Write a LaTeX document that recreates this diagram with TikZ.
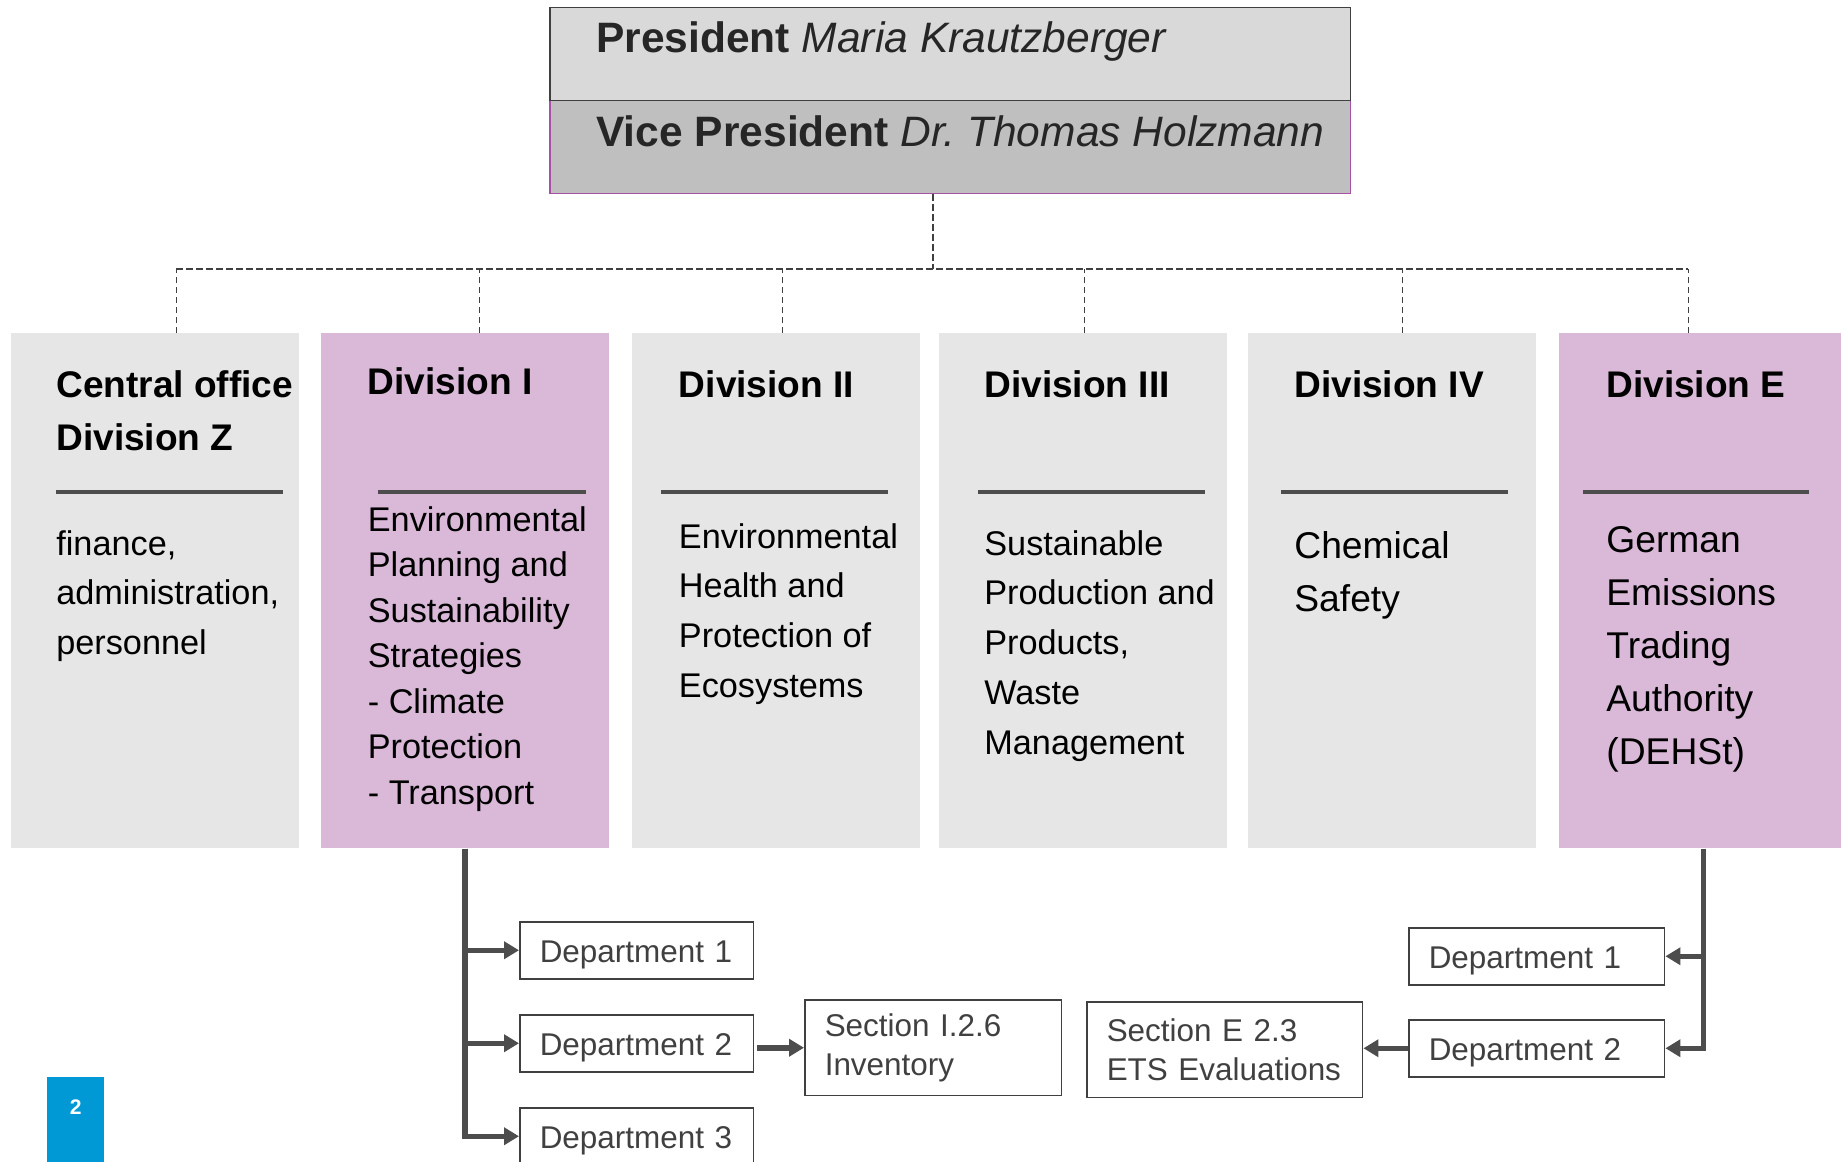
\documentclass[tikz,border=0pt]{standalone}
\usepackage{fontspec}
\setmainfont{Liberation Sans}
\usetikzlibrary{arrows.meta}

\definecolor{boxgray}{HTML}{E6E6E6}
\definecolor{boxpink}{HTML}{D9B9D7}
\definecolor{linegray}{HTML}{4D4D4D}
\definecolor{textgray}{HTML}{404040}
\definecolor{presgray}{HTML}{D9D9D9}
\definecolor{vpgray}{HTML}{BFBFBF}
\definecolor{vpline}{HTML}{A552A5}
\definecolor{presblack}{HTML}{262626}
\definecolor{pageblue}{HTML}{0099D5}

\newcommand{\fsz}[2]{\fontsize{#1}{#2}\selectfont}
\newcommand{\boxtext}[1]{\begin{tabular}[t]{@{}l@{}}#1\end{tabular}}

\tikzset{
  topbox/.style={anchor=north west, inner sep=0, minimum width=16.02cm, minimum height=1.86cm, line width=0.03cm},
  toptext/.style={anchor=base west, inner sep=0, text=presblack, font=\fsz{24.2}{29}},
  division/.style={anchor=north west, inner sep=0, minimum width=5.76cm, minimum height=10.3cm},
  head/.style={anchor=base west, inner sep=0, font=\bfseries\fsz{21.1}{30.7}},
  body/.style={anchor=base west, inner sep=0},
  divrule/.style={line width=0.08cm, draw=linegray},
  orgdash/.style={line width=0.026cm, draw=textgray, dash pattern=on 0.13cm off 0.07cm},
  dept/.style={draw=textgray, line width=0.03cm, text=textgray, anchor=north west, inner xsep=0.4cm, text width=#1, minimum height=1.14cm, text height=0.49cm, text depth=0cm, font=\fsz{17.9}{21.5}},
  secbox/.style={draw=textgray, line width=0.03cm, text=textgray, anchor=north west, inner xsep=0.4cm, text width=#1, minimum height=1.92cm, font=\fsz{17.9}{22}},
  orgarrow/.style={line width=0.11cm, draw=linegray, -{Triangle[length=0.3cm, width=0.34cm]}},
  pagebox/.style={anchor=north west, inner sep=0, fill=pageblue, minimum width=1.14cm, minimum height=2cm}
}

\begin{document}
\begin{tikzpicture}[x=0.02cm, y=-0.02cm]
\useasboundingbox (0,0) rectangle (1841,1162);
\clip (0,0) rectangle (1841,1162);

% president and vice president
\node[topbox, fill=vpgray, draw=vpline] (vp) at (549,100) {};
\node[topbox, fill=presgray, draw=textgray] (pres) at (549,7) {};
\node[toptext] (prestxt) at (596,53) {\textbf{President} \textit{Maria Krautzberger}};
\node[toptext] (vptxt) at (596,147) {\textbf{Vice President} \textit{Dr.\ Thomas Holzmann}};

% divisions
\node[division, fill=boxgray] (dz) at (10.6,333) {};
\node[division, fill=boxpink] (di) at (320.5,333) {};
\node[division, fill=boxgray] (dii) at (632,333) {};
\node[division, fill=boxgray] (diii) at (939,333) {};
\node[division, fill=boxgray] (div) at (1248,333) {};
\node[division, fill=boxpink] (de) at (1559,333) {};

\node[head] (dzh) at (56,397) {\boxtext{Central office\\Division Z}};
\node[head] (dih) at (367.5,394) {Division I};
\node[head] (diih) at (678.6,397) {Division II};
\node[head] (diiih) at (984,397) {Division III};
\node[head] (divh) at (1294,397) {Division IV};
\node[head] (deh) at (1606,397) {Division E};

\foreach \a/\b in {56/283, 378/586, 661/888, 978/1205, 1281/1508, 1583/1809}
  \draw[divrule] (\a,492) -- (\b,492);

\node[body, font=\fsz{19.5}{28.3}] (dzb) at (56,555) {\boxtext{finance,\\administration,\\personnel}};
\node[body, font=\fsz{19.5}{25.9}] (dib) at (367.5,531) {\boxtext{Environmental\\Planning and\\Sustainability\\Strategies\\- Climate\\Protection\\- Transport}};
\node[body, font=\fsz{19.5}{28.3}] (diib) at (678.6,548) {\boxtext{Environmental\\Health and\\Protection of\\Ecosystems}};
\node[body, font=\fsz{19.5}{28.4}] (diiib) at (984,555) {\boxtext{Sustainable\\Production and\\Products,\\Waste\\Management}};
\node[body, font=\fsz{21.2}{30.7}] (divb) at (1294,558) {\boxtext{Chemical\\Safety}};
\node[body, font=\fsz{21.2}{30.3}] (deb) at (1606,552) {\boxtext{German\\Emissions\\Trading\\Authority\\(DEHSt)}};

% dashed links
\coordinate (hub) at (933,269);
\draw[orgdash] (hub |- vp.south) -- (hub);
\foreach \n/\dx in {dz/0.43, di/0.29, dii/0.12, diii/0.02, div/0.2, de/-0.3}
  \coordinate (t\n) at ([xshift=\dx cm]\n.north);
\foreach \n in {dz,di,dii,diii,div,de}
  \draw[orgdash] (t\n) -- (t\n |- hub);
\draw[orgdash] (tdz |- hub) -- (tde |- hub);

% departments and sections
\node[dept=3.88cm] (dep1) at (519,921) {Department 1};
\node[dept=3.88cm] (dep2) at (519,1014) {Department 2};
\node[dept=3.88cm] (dep3) at (519,1107) {Department 3};
\node[secbox=4.34cm] (sec1) at (804,999) {Section I.2.6\\Inventory};

\node[dept=4.32cm] (ed1) at (1408,927) {Department 1};
\node[dept=4.32cm] (ed2) at (1408,1019) {Department 2};
\node[secbox=4.72cm] (sec2) at (1086,1001) {Section E 2.3\\ETS Evaluations};

\draw[orgarrow] (di.south) |- (dep1.west);
\draw[orgarrow] (di.south) |- (dep2.west);
\draw[orgarrow] (di.south) |- (dep3.west);
\draw[orgarrow, shorten <=0.06cm] (sec1.west -| dep2.east) -- (sec1.west);
\draw[orgarrow] (de.south) |- (ed1.east);
\draw[orgarrow] (de.south) |- (ed2.east);
\draw[orgarrow] (ed2.west) -- (ed2.west -| sec2.east);

% page number
\node[pagebox] (pg) at (47,1077) {};
\node[text=white, font=\bfseries\fsz{12}{14}] (pgno) at ([yshift=-0.6cm]pg.north) {2};
\end{tikzpicture}
\end{document}
